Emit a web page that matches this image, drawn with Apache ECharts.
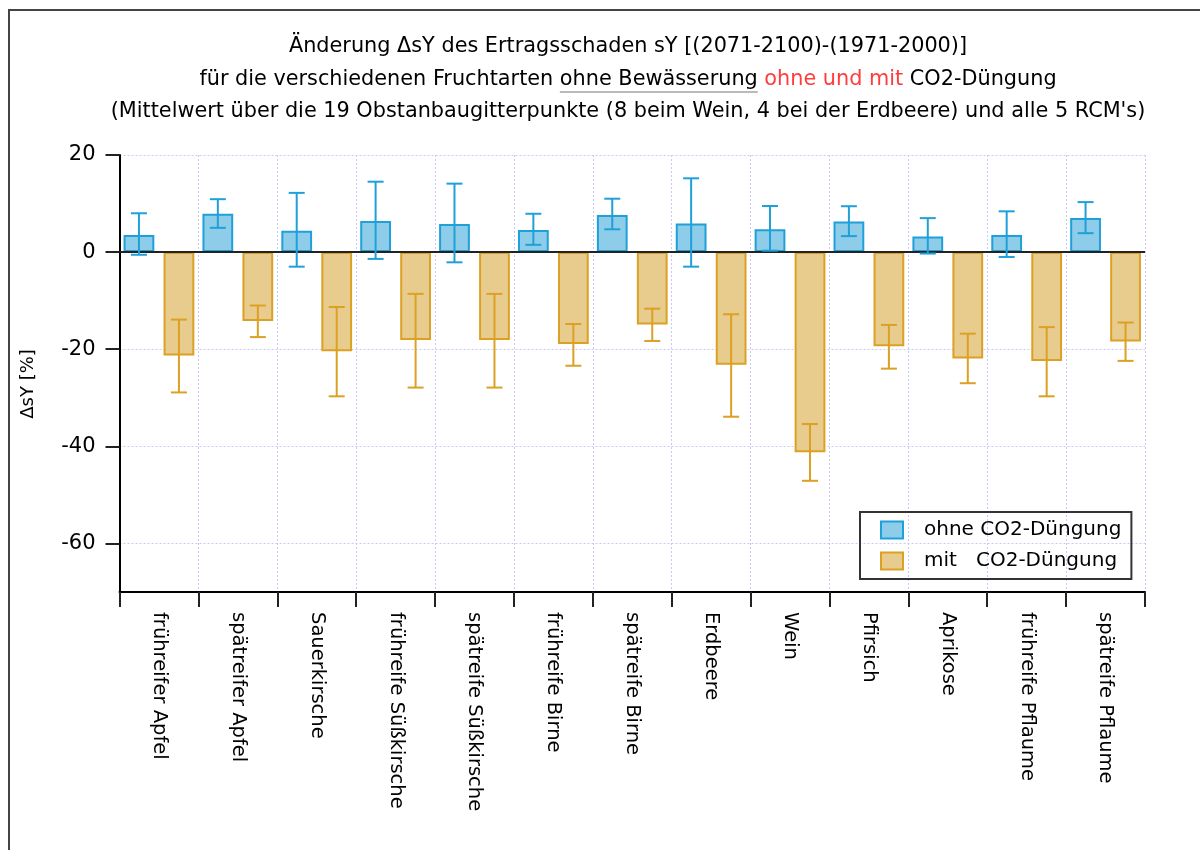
<!DOCTYPE html>
<html>
<head>
<meta charset="utf-8">
<script src="https://cdn.jsdelivr.net/npm/echarts@6/dist/echarts.min.js"></script>
<style>
  html, body { margin: 0; padding: 0; background: #fff; }
  #chart { width: 1200px; height: 850px; }
</style>
</head>
<body>
<div id="chart"></div>
<script>
// Fruit types
const categories = [
  'frühreifer Apfel', 'spätreifer Apfel', 'Sauerkirsche', 'frühreife Süßkirsche',
  'spätreife Süßkirsche', 'frühreife Birne', 'spätreife Birne', 'Erdbeere', 'Wein',
  'Pfirsich', 'Aprikose', 'frühreife Pflaume', 'spätreife Pflaume'
];

// ΔsY [%] without CO2 fertilisation: mean and error range
const ohneMean = [3.5, 7.9, 4.4, 6.4, 5.8, 4.55, 7.65, 5.9, 4.7, 6.3, 3.2, 3.5, 7.0];
const ohneLow  = [-0.55, 5.0, -3.0, -1.4, -2.1, 1.5, 4.7, -3.0, 0.3, 3.3, -0.3, -1.0, 3.9];
const ohneHigh = [8.0, 10.9, 12.2, 14.5, 14.1, 7.9, 11.0, 15.2, 9.5, 9.45, 7.0, 8.4, 10.3];

// ΔsY [%] with CO2 fertilisation: mean and error range
const mitMean = [-21.3, -14.2, -20.4, -18.1, -18.1, -18.9, -14.9, -23.2, -41.2, -19.4, -21.9, -22.4, -18.4];
const mitHigh = [-13.9, -11.0, -11.3, -8.6, -8.6, -14.8, -11.65, -12.8, -35.4, -15.0, -16.8, -15.45, -14.5];
const mitLow  = [-28.9, -17.5, -29.7, -27.9, -27.9, -23.4, -18.3, -33.9, -47.1, -24.0, -27.0, -29.7, -22.4];

const seriesNames = ['ohne CO2-Düngung', 'mit   CO2-Düngung'];

const titleLines = [
  'Änderung ΔsY des Ertragsschaden sY [(2071-2100)-(1971-2000)]',
  ['für die verschiedenen Fruchtarten ', 'ohne Bewässerung', ' ', 'ohne und mit', ' CO2-Düngung'],
  '(Mittelwert über die 19 Obstanbaugitterpunkte (8 beim Wein, 4 bei der Erdbeere) und alle 5 RCM\'s)'
];
const yAxisTitle = 'ΔsY [%]';

const FONT = '"DejaVu Sans", "Noto Sans", sans-serif';
const BLUE_FILL = '#8ecde9', BLUE_LINE = '#1fa0d8';
const ORANGE_FILL = '#e8cc8e', ORANGE_LINE = '#dca023';
const BAR_FRAC = 0.39, GAP_FRAC = 0.30;

const chart = echarts.init(document.getElementById('chart'));

// measure title text so the underline sits under "ohne Bewässerung"
const titleFontSize = 20.8;
const titleFont = titleFontSize + 'px ' + FONT;
const mctx = document.createElement('canvas').getContext('2d');
mctx.font = titleFont;
const line2 = titleLines[1];
const titleCx = 628;
const fullW = mctx.measureText(line2.join('')).width;
const preW = mctx.measureText(line2[0]).width;
const segW = mctx.measureText(line2[1]).width;
const ulX0 = titleCx - fullW / 2 + preW;
const ulY = 80 + 12;

function errorBars(side, color) {
  return function (params, api) {
    const idx = api.value(0);
    const lo = api.coord([idx, api.value(1)]);
    const hi = api.coord([idx, api.value(2)]);
    const band = api.size([1, 0])[0];
    const bw = band * BAR_FRAC;
    const x = lo[0] + side * (bw + bw * GAP_FRAC) / 2;
    const cap = 8;
    const st = { stroke: color, lineWidth: 2 };
    return {
      type: 'group',
      children: [
        { type: 'line', shape: { x1: x, y1: lo[1], x2: x, y2: hi[1] }, style: st },
        { type: 'line', shape: { x1: x - cap, y1: lo[1], x2: x + cap, y2: lo[1] }, style: st },
        { type: 'line', shape: { x1: x - cap, y1: hi[1], x2: x + cap, y2: hi[1] }, style: st }
      ]
    };
  };
}

const option = {
  backgroundColor: '#fff',
  animation: false,
  textStyle: { fontFamily: FONT },
  graphic: [
    {
      type: 'rect', z: -10, silent: true,
      shape: { x: 9, y: 10, width: 1400, height: 1000 },
      style: { fill: 'none', stroke: '#444', lineWidth: 2 }
    },
    {
      type: 'text', x: titleCx, y: 47,
      style: { text: titleLines[0], font: titleFont, fill: '#000', align: 'center', verticalAlign: 'middle' }
    },
    {
      type: 'text', x: titleCx, y: 80,
      style: {
        text: line2[0] + line2[1] + line2[2] + '{r|' + line2[3] + '}' + line2[4],
        font: titleFont, fill: '#000', align: 'center', verticalAlign: 'middle',
        rich: { r: { fill: '#ff3c3c', font: titleFont } }
      }
    },
    {
      type: 'line', silent: true,
      shape: { x1: ulX0, y1: ulY, x2: ulX0 + segW, y2: ulY },
      style: { stroke: '#777', lineWidth: 1 }
    },
    {
      type: 'text', x: titleCx, y: 112,
      style: { text: titleLines[2], font: titleFont, fill: '#000', align: 'center', verticalAlign: 'middle' }
    },
    {
      type: 'text', x: 28, y: 384, rotation: Math.PI / 2,
      style: { text: yAxisTitle, font: '18px ' + FONT, fill: '#000', align: 'center', verticalAlign: 'middle' }
    }
  ],
  legend: {
    orient: 'vertical',
    left: 860, top: 512,
    selectedMode: false,
    borderColor: '#333', borderWidth: 2,
    padding: [8, 10, 8, 20],
    itemWidth: 22, itemHeight: 17, itemGap: 11,
    icon: 'rect',
    textStyle: { fontSize: 20, color: '#000', fontFamily: FONT, padding: [0, 0, 0, 16] },
    data: seriesNames
  },
  grid: { left: 119.5, right: 55, top: 155, bottom: 258, containLabel: false },
  xAxis: {
    type: 'category',
    data: categories,
    boundaryGap: true,
    axisLine: { show: true, onZero: false, lineStyle: { color: '#000', width: 2 } },
    axisTick: { show: true, inside: false, length: 15, alignWithLabel: false, lineStyle: { color: '#222', width: 2 } },
    axisLabel: { rotate: -90, margin: 20, fontSize: 19.5, color: '#000', fontFamily: FONT, interval: 0 },
    splitLine: { show: true, interval: 0, lineStyle: { color: '#c9c9f7', type: [2, 2], width: 1 } }
  },
  yAxis: {
    type: 'value',
    min: -70, max: 20, splitNumber: 5,
    axisLine: { show: true, lineStyle: { color: '#000', width: 2 } },
    axisTick: { show: true, inside: false, length: 14, lineStyle: { color: '#222', width: 2 } },
    axisLabel: {
      margin: 24, fontSize: 21, color: '#000', fontFamily: FONT,
      showMinLabel: false,
      formatter: v => (v % 20 === 0 ? String(v) : '')
    },
    splitLine: { show: true, lineStyle: { color: '#c9c9f7', type: [2, 2], width: 1 } }
  },
  series: [
    {
      name: seriesNames[0],
      type: 'bar',
      data: ohneMean,
      barWidth: (BAR_FRAC * 100) + '%',
      barGap: (GAP_FRAC * 100) + '%',
      itemStyle: { color: BLUE_FILL, borderColor: BLUE_LINE, borderWidth: 2 },
      markLine: {
        silent: true, symbol: 'none', label: { show: false }, z: 5,
        lineStyle: { color: '#222', width: 2, type: 'solid' },
        data: [{ yAxis: 0 }]
      }
    },
    {
      name: seriesNames[1],
      type: 'bar',
      data: mitMean,
      barWidth: (BAR_FRAC * 100) + '%',
      barGap: (GAP_FRAC * 100) + '%',
      itemStyle: { color: ORANGE_FILL, borderColor: ORANGE_LINE, borderWidth: 2 }
    },
    {
      type: 'custom',
      name: 'ohne-err',
      renderItem: errorBars(-1, BLUE_LINE),
      data: categories.map((c, i) => [i, ohneLow[i], ohneHigh[i]]),
      encode: { x: 0, y: [1, 2] },
      z: 10, silent: true
    },
    {
      type: 'custom',
      name: 'mit-err',
      renderItem: errorBars(1, ORANGE_LINE),
      data: categories.map((c, i) => [i, mitLow[i], mitHigh[i]]),
      encode: { x: 0, y: [1, 2] },
      z: 10, silent: true
    }
  ]
};

chart.setOption(option);
</script>
</body>
</html>
